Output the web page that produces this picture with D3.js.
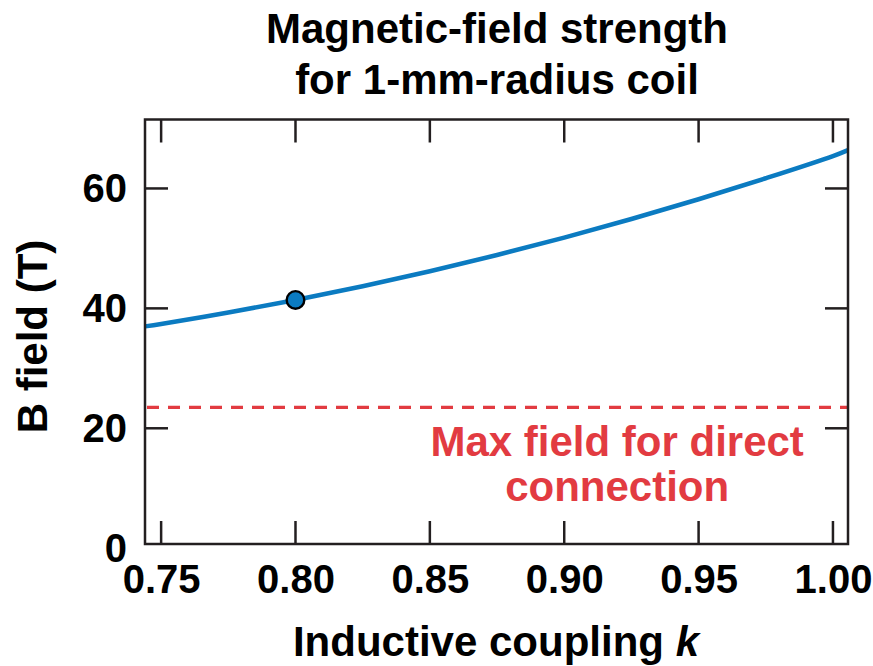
<!DOCTYPE html>
<html>
<head>
<meta charset="utf-8">
<script src="https://cdn.jsdelivr.net/npm/d3@7"></script>
<style>
    body { margin: 0; background: #fff; }
    svg { display: block; font-family: "Liberation Sans", Arial, Helvetica, sans-serif; font-weight: bold; }
    .axis text { font-size: 40px; fill: #000; }
</style>
</head>
<body>
<div id="chart"></div>
<script>
// Data
const couplingK = [0.744, 0.75, 0.775, 0.80, 0.825, 0.85, 0.875, 0.90, 0.925, 0.95, 0.975, 1.00, 1.0056];
const bField    = [37.0, 37.4, 39.3, 41.4, 43.7, 46.2, 48.9, 51.8, 54.9, 58.2, 61.7, 65.4, 66.4];
const markedK = [0.80];
const markedB = [41.4];
const maxDirectField = 23.5;
const xTicks = [0.75, 0.80, 0.85, 0.90, 0.95, 1.00];
const yTicks = [0, 20, 40, 60];
const titleLines = ['Magnetic-field strength', 'for 1-mm-radius coil'];
const noteLines = ['Max field for direct', 'connection'];

const config = {
    containerWidth: 873,
    containerHeight: 666,
    margin: {top: 119.5, right: 25, bottom: 122, left: 145},
    tickLength: 23
};

const width = config.containerWidth - config.margin.left - config.margin.right;
const height = config.containerHeight - config.margin.top - config.margin.bottom;

const svg = d3.select('#chart').append('svg')
    .attr('width', config.containerWidth)
    .attr('height', config.containerHeight);

const chart = svg.append('g')
    .attr('transform', `translate(${config.margin.left},${config.margin.top})`);

// Scales
const xScale = d3.scaleLinear().domain([0.744, 1.0056]).range([0, width]);
const yScale = d3.scaleLinear().domain([0.7, 71.5]).range([height, 0]);

// Axes: labels only, the inward ticks are drawn below
const xAxis = d3.axisBottom(xScale).tickValues(xTicks).tickSize(0).tickPadding(21)
    .tickFormat(d3.format('.2f'));
const yAxis = d3.axisLeft(yScale).tickValues(yTicks).tickSize(0).tickPadding(18);

chart.append('g')
    .attr('class', 'axis x-axis')
    .attr('transform', `translate(0,${height})`)
    .call(xAxis)
    .call(g => g.select('.domain').remove())
    .call(g => g.selectAll('text').attr('font-family', null).attr('font-size', null));

chart.append('g')
    .attr('class', 'axis y-axis')
    .call(yAxis)
    .call(g => g.select('.domain').remove())
    .call(g => g.selectAll('text').attr('font-family', null).attr('font-size', null));

// Inward ticks on all four sides
const tickColor = '#231f20';
const inYTicks = yTicks.filter(d => d >= yScale.domain()[0]);
const tickG = chart.append('g')
    .attr('stroke', tickColor)
    .attr('stroke-width', 2.5);

tickG.selectAll('.xt-bottom').data(xTicks).join('line')
    .attr('x1', d => xScale(d)).attr('x2', d => xScale(d))
    .attr('y1', height).attr('y2', height - config.tickLength);
tickG.selectAll('.xt-top').data(xTicks).join('line')
    .attr('x1', d => xScale(d)).attr('x2', d => xScale(d))
    .attr('y1', 0).attr('y2', config.tickLength);
tickG.selectAll('.yt-left').data(inYTicks).join('line')
    .attr('y1', d => yScale(d)).attr('y2', d => yScale(d))
    .attr('x1', 0).attr('x2', config.tickLength);
tickG.selectAll('.yt-right').data(inYTicks).join('line')
    .attr('y1', d => yScale(d)).attr('y2', d => yScale(d))
    .attr('x1', width).attr('x2', width - config.tickLength);

// Max field threshold
chart.append('line')
    .attr('x1', 2).attr('x2', width)
    .attr('y1', yScale(maxDirectField)).attr('y2', yScale(maxDirectField))
    .attr('stroke', '#e23b41')
    .attr('stroke-width', 3.2)
    .attr('stroke-dasharray', '12,9');

// label sits centred near k = 0.92
const noteX = xScale(0.9197);
chart.append('text')
    .attr('y', yScale(maxDirectField) + 49)
    .attr('text-anchor', 'middle')
    .attr('font-size', 42)
    .attr('fill', '#e23b41')
    .selectAll('tspan').data(noteLines).join('tspan')
    .attr('x', noteX)
    .attr('dy', (d, i) => i === 0 ? 0 : 45)
    .text(d => d);

// Field curve
const line = d3.line()
    .x((d, i) => xScale(couplingK[i]))
    .y(d => yScale(d))
    .curve(d3.curveCatmullRom);

chart.append('path')
    .datum(bField)
    .attr('fill', 'none')
    .attr('stroke', '#0b7bc1')
    .attr('stroke-width', 4.5)
    .attr('d', line);

chart.selectAll('.marker').data(markedK).join('circle')
    .attr('class', 'marker')
    .attr('cx', d => xScale(d))
    .attr('cy', (d, i) => yScale(markedB[i]))
    .attr('r', 8.8)
    .attr('fill', '#0b7bc1')
    .attr('stroke', '#000')
    .attr('stroke-width', 2.4);

// Frame
chart.append('rect')
    .attr('width', width)
    .attr('height', height)
    .attr('fill', 'none')
    .attr('stroke', tickColor)
    .attr('stroke-width', 2.5);

// Titles
svg.append('text')
    .attr('text-anchor', 'middle')
    .attr('font-size', 42)
    .selectAll('tspan').data(titleLines).join('tspan')
    .attr('x', 497)
    .attr('y', (d, i) => 43 + i * 51)
    .text(d => d);

const xTitle = svg.append('text')
    .attr('x', config.margin.left + xScale(0.8746))
    .attr('y', 656)
    .attr('text-anchor', 'middle')
    .attr('font-size', 42);
xTitle.append('tspan').text('Inductive coupling ');
xTitle.append('tspan').attr('font-style', 'italic').text('k');

svg.append('text')
    .attr('transform', `translate(46.5,${336.5}) rotate(-90)`)
    .attr('text-anchor', 'middle')
    .attr('font-size', 42)
    .text('B field (T)');
</script>
</body>
</html>
